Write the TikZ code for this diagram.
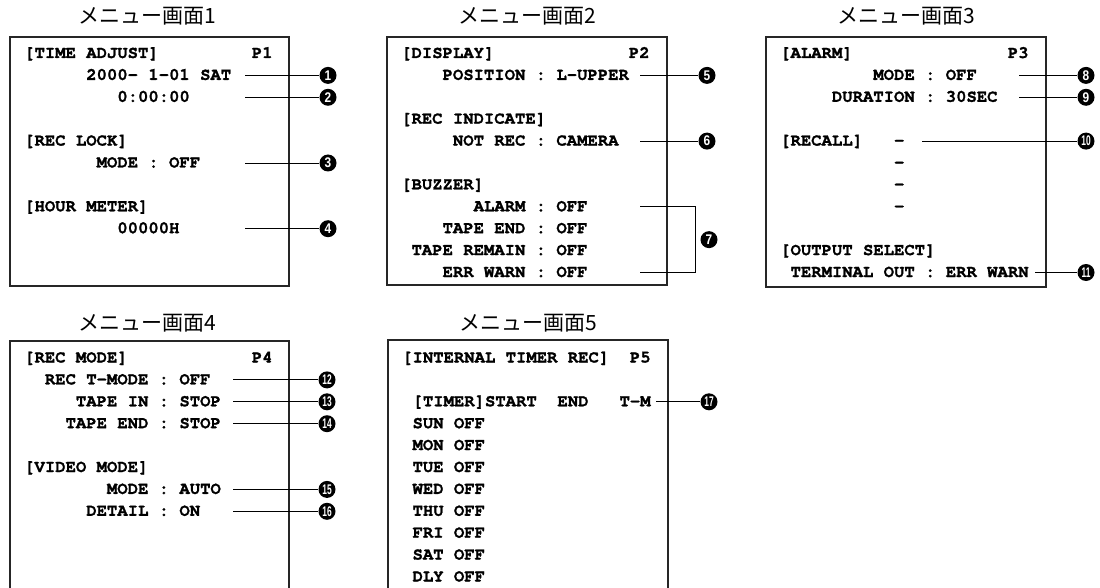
\documentclass[tikz,border=0pt]{standalone}
\usepackage{fontspec}
\usepackage{graphicx}
\setmonofont{texgyrecursor}[Extension=.otf,UprightFont=*-regular,BoldFont=*-bold,ItalicFont=*-italic,BoldItalicFont=*-bolditalic,BoldFeatures={FakeBold=1.3}]
\newfontfamily\jpfont{Noto Sans CJK JP}
\newfontfamily\numfont{Liberation Sans}
\def\cw{10.35}
\def\rh{21.9}
\newcommand{\one}[1]{\scalebox{0.85}[1]{#1}}
\newcommand{\two}[1]{\scalebox{0.6}[1]{#1}}
\begin{document}
\begin{tikzpicture}[x=1pt,y=-1pt,
  scr/.style={font=\fontsize{17.25}{20}\selectfont\ttfamily\bfseries, anchor=base west, inner sep=0pt},
  ttl/.style={font=\fontsize{21}{24}\selectfont\jpfont, inner sep=0pt},
  frame/.style={draw=black!85, line width=1.4pt},
  lead/.style={draw=black, line width=0.9pt},
  num/.style={circle, fill=black, text=white, inner sep=0pt, minimum size=17pt, font=\fontsize{14}{14}\selectfont\numfont\bfseries},
]
\useasboundingbox (0,0) rectangle (1100,588);
\clip (0,0) rectangle (1100,588);

% ---------- titles ----------
\node[ttl] (t1) at (147,16) {メニュー画面1};
\node[ttl] (t2) at (527,16) {メニュー画面2};
\node[ttl] (t3) at (906,16) {メニュー画面3};
\node[ttl] (t4) at (147,323) {メニュー画面4};
\node[ttl] (t5) at (528,323) {メニュー画面5};

% ---------- frames ----------
\draw[frame] (10,37) rectangle (289,286);
\draw[frame] (387,37) rectangle (667,285);
\draw[frame] (766,37) rectangle (1046,287);
\draw[frame] (10,592) -- (10,341) -- (289,341) -- (289,592);
\draw[frame] (388,592) -- (388,340) -- (668,340) -- (668,592);

% ---------- screen 1 (left 24, row0 baseline 58) ----------
\node[scr] (a0) at ({24},{58}) {[TIME ADJUST]};
\node[scr] (a0p) at ({24+22*\cw},{58}) {P1};
\node[scr] (a1) at ({24+6*\cw},{58+1*\rh}) {2000- 1-01 SAT};
\node[scr] (a2) at ({24+9*\cw},{58+2*\rh}) {0:00:00};
\node[scr] (a4) at ({24},{58+4*\rh}) {[REC LOCK]};
\node[scr] (a5) at ({24+7*\cw},{58+5*\rh}) {MODE : OFF};
\node[scr] (a7) at ({24},{58+7*\rh}) {[HOUR METER]};
\node[scr] (a8) at ({24+9*\cw},{58+8*\rh}) {00000H};

\node[num] (n1) at (328,{53.5+1*\rh}) {\one{1}};
\node[num] (n2) at (328,{53.5+2*\rh}) {\one{2}};
\node[num] (n3) at (328,{53.5+5*\rh}) {\one{3}};
\node[num] (n4) at (328,{53.5+8*\rh}) {\one{4}};
\coordinate (s1) at (245,{53.5+1*\rh});
\coordinate (s2) at (245,{53.5+2*\rh});
\coordinate (s3) at (245,{53.5+5*\rh});
\coordinate (s4) at (245,{53.5+8*\rh});
\draw[lead] (s1) -- (n1.west);
\draw[lead] (s2) -- (n2.west);
\draw[lead] (s3) -- (n3.west);
\draw[lead] (s4) -- (n4.west);

% ---------- screen 2 (left 401) ----------
\node[scr] (b0) at ({401},{58}) {[DISPLAY]};
\node[scr] (b0p) at ({401+22*\cw},{58}) {P2};
\node[scr] (b1) at ({401+4*\cw},{58+1*\rh}) {POSITION : L-UPPER};
\node[scr] (b3) at ({401},{58+3*\rh}) {[REC INDICATE]};
\node[scr] (b4) at ({401+5*\cw},{58+4*\rh}) {NOT REC : CAMERA};
\node[scr] (b6) at ({401},{58+6*\rh}) {[BUZZER]};
\node[scr] (b7) at ({401+7*\cw},{58+7*\rh}) {ALARM : OFF};
\node[scr] (b8) at ({401+4*\cw},{58+8*\rh}) {TAPE END : OFF};
\node[scr] (b9) at ({401+1*\cw},{58+9*\rh}) {TAPE REMAIN : OFF};
\node[scr] (b10) at ({401+4*\cw},{58+10*\rh}) {ERR WARN : OFF};

\node[num] (n5) at (707,{53.5+1*\rh}) {\one{5}};
\node[num] (n6) at (707,{53.5+4*\rh}) {\one{6}};
\node[num] (n7) at (709,{53.5+8.5*\rh}) {\one{7}};
\coordinate (s5) at (640,{53.5+1*\rh});
\coordinate (s6) at (640,{53.5+4*\rh});
\coordinate (s7a) at (640,{53.5+7*\rh});
\coordinate (s7b) at (640,{53.5+10*\rh});
\draw[lead] (s5) -- (n5.west);
\draw[lead] (s6) -- (n6.west);
\draw[lead] (s7a) -- (695,{53.5+7*\rh}) -- (695,{53.5+10*\rh}) -- (s7b);

% ---------- screen 3 (left 780) ----------
\node[scr] (c0) at ({780},{58}) {[ALARM]};
\node[scr] (c0p) at ({780+22*\cw},{58}) {P3};
\node[scr] (c1) at ({780+9*\cw},{58+1*\rh}) {MODE : OFF};
\node[scr] (c2) at ({780+5*\cw},{58+2*\rh}) {DURATION : 30SEC};
\node[scr] (c4) at ({780},{58+4*\rh}) {[RECALL]};
\foreach \r in {4,5,6,7}{
  \node[scr] (cd\r) at ({780+11*\cw},{58+\r*\rh}) {-};
}
\node[scr] (c9) at ({780},{58+9*\rh}) {[OUTPUT SELECT]};
\node[scr] (c10) at ({780+1*\cw},{58+10*\rh}) {TERMINAL OUT : ERR WARN};

\node[num] (n8) at (1086,{53.5+1*\rh}) {\one{8}};
\node[num] (n9) at (1086,{53.5+2*\rh}) {\one{9}};
\node[num] (n10) at (1086,{53.5+4*\rh}) {\two{10}};
\node[num] (n11) at (1086,{53.5+10*\rh}) {\two{11}};
\coordinate (s8) at (1019,{53.5+1*\rh});
\coordinate (s9) at (1019,{53.5+2*\rh});
\coordinate (s10) at (922,{53.5+4*\rh});
\coordinate (s11) at (1035,{53.5+10*\rh});
\draw[lead] (s8) -- (n8.west);
\draw[lead] (s9) -- (n9.west);
\draw[lead] (s10) -- (n10.west);
\draw[lead] (s11) -- (n11.west);

% ---------- screen 4 (left 24, row0 baseline 362.5) ----------
\node[scr] (d0) at ({24},{362.5}) {[REC MODE]};
\node[scr] (d0p) at ({24+22*\cw},{362.5}) {P4};
\node[scr] (d1) at ({24+2*\cw},{362.5+1*\rh}) {REC T-MODE : OFF};
\node[scr] (d2) at ({24+5*\cw},{362.5+2*\rh}) {TAPE IN : STOP};
\node[scr] (d3) at ({24+4*\cw},{362.5+3*\rh}) {TAPE END : STOP};
\node[scr] (d5) at ({24},{362.5+5*\rh}) {[VIDEO MODE]};
\node[scr] (d6) at ({24+8*\cw},{362.5+6*\rh}) {MODE : AUTO};
\node[scr] (d7) at ({24+6*\cw},{362.5+7*\rh}) {DETAIL : ON};

\node[num] (n12) at (327,{358+1*\rh}) {\two{12}};
\node[num] (n13) at (327,{358+2*\rh}) {\two{13}};
\node[num] (n14) at (327,{358+3*\rh}) {\two{14}};
\node[num] (n15) at (327,{358+6*\rh}) {\two{15}};
\node[num] (n16) at (327,{358+7*\rh}) {\two{16}};
\coordinate (s12) at (233,{358+1*\rh});
\coordinate (s13) at (233,{358+2*\rh});
\coordinate (s14) at (233,{358+3*\rh});
\coordinate (s15) at (233,{358+6*\rh});
\coordinate (s16) at (233,{358+7*\rh});
\draw[lead] (s12) -- (n12.west);
\draw[lead] (s13) -- (n13.west);
\draw[lead] (s14) -- (n14.west);
\draw[lead] (s15) -- (n15.west);
\draw[lead] (s16) -- (n16.west);

% ---------- screen 5 (left 402) ----------
\node[scr] (e0) at ({402},{362.5}) {[INTERNAL TIMER REC]};
\node[scr] (e0p) at ({402+22*\cw},{362.5}) {P5};
\node[scr] (e2a) at ({402+1*\cw},{362.5+2*\rh}) {[TIMER]START};
\node[scr] (e2b) at ({402+15*\cw},{362.5+2*\rh}) {END};
\node[scr] (e2c) at ({402+21*\cw},{362.5+2*\rh}) {T-M};
\foreach \d [count=\i from 3] in {SUN,MON,TUE,WED,THU,FRI,SAT,DLY}{
  \node[scr] (e\i) at ({402+1*\cw},{362.5+\i*\rh}) {\d\ OFF};
}
\node[num] (n17) at (709,{358+2*\rh}) {\two{17}};
\coordinate (s17) at (656,{358+2*\rh});
\draw[lead] (s17) -- (n17.west);
\end{tikzpicture}
\end{document}
